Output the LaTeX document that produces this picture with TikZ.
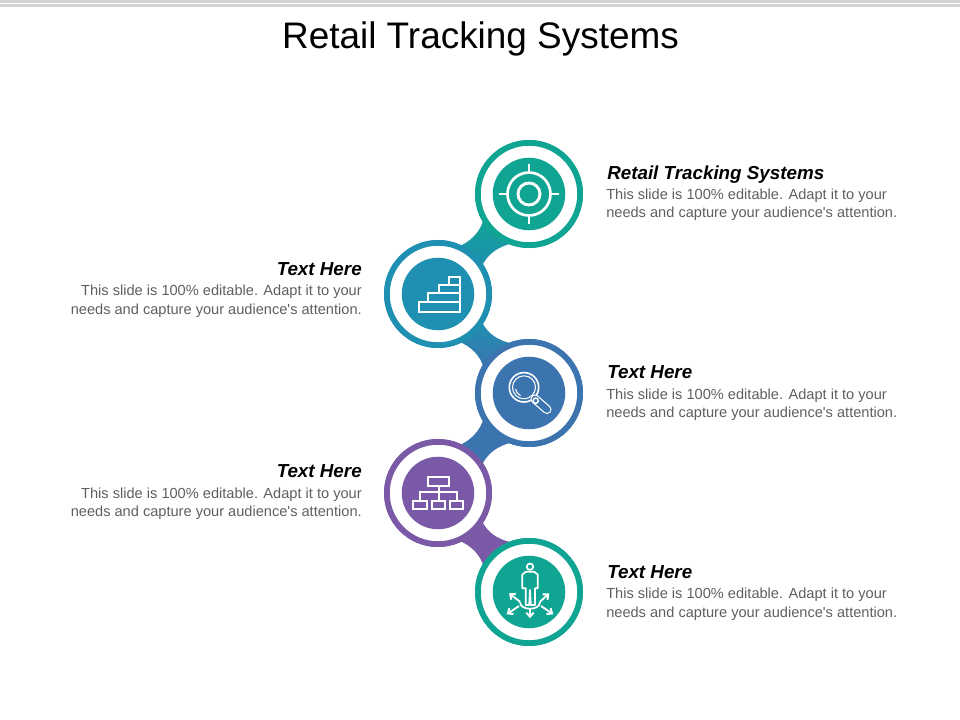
\documentclass[tikz,border=0pt]{standalone}
\usepackage{fontspec}
\usetikzlibrary{arrows.meta}
\setmainfont{Liberation Sans}
\definecolor{tealring}{HTML}{10A492}
\definecolor{bluering}{HTML}{1F8FB2}
\definecolor{steelring}{HTML}{3B74AE}
\definecolor{purplering}{HTML}{7A5AA6}
\definecolor{bodygrey}{HTML}{5F5F5F}
\tikzset{
  ringnode/.style={circle, draw=#1, fill=white, line width=4.3pt, outer sep=0pt, minimum size=76.7pt},
  disc/.style={circle, fill=#1, minimum size=54.4pt, inner sep=0pt},
  headtext/.style={font=\fontsize{14.1pt}{16pt}\selectfont\bfseries\itshape, text=black, inner sep=0pt},
  bodytext/.style={font=\fontsize{10.95pt}{13.9pt}\selectfont, text=bodygrey, inner sep=0pt},
  icon/.style={draw=white, line width=#1},
  icon/.default=1.5pt,
  barb/.style={-{Straight Barb[length=3.2pt, width=5.5pt]}},
}
\begin{document}
\begin{tikzpicture}[x=0.75pt, y=-0.75pt]
  \useasboundingbox (0,0) rectangle (960,720);
  % top rules
  \fill[black!17] (0,0) rectangle (960,3);
  \fill[black!17] (0,4) rectangle (960,7);
  \node[font=\fontsize{27.7pt}{30pt}\selectfont, inner sep=0pt] (title) at (480.5,39) {Retail Tracking Systems};
  % rings, placed first so that the links can use their anchors
  \path node[ringnode=tealring] (ringa) at (529,194) {};
  \path node[ringnode=bluering] (ringb) at (438,294) {};
  \path node[ringnode=steelring] (ringc) at (529,393) {};
  \path node[ringnode=purplering] (ringd) at (438,493) {};
  \path node[ringnode=tealring] (ringe) at (529,592) {};
  % links
  \shade[top color=tealring, bottom color=bluering] (ringa.208) .. controls +(-3,14) and +(12,-5) .. (ringb.67) -- (ringb.32) .. controls +(6,-12) and +(-18,4) .. (ringa.253) -- cycle;
  \shade[top color=bluering, bottom color=steelring] (ringb.328) .. controls +(6,12) and +(-18,-4) .. (ringc.107) -- (ringc.152) .. controls +(-3,-14) and +(12,5) .. (ringb.293) -- cycle;
  \fill[steelring] (ringc.208) .. controls +(-3,14) and +(12,-5) .. (ringd.67) -- (ringd.32) .. controls +(6,-12) and +(-18,4) .. (ringc.253) -- cycle;
  \fill[purplering] (ringd.328) .. controls +(6,12) and +(-18,-4) .. (ringe.107) -- (ringe.152) .. controls +(-3,-14) and +(12,5) .. (ringd.293) -- cycle;
  % redraw rings over the links
  \node[ringnode=tealring] at (ringa) {};
  \node[ringnode=bluering] at (ringb) {};
  \node[ringnode=steelring] at (ringc) {};
  \node[ringnode=purplering] at (ringd) {};
  \node[ringnode=tealring] at (ringe) {};
  \node[disc=tealring] (disca) at (ringa) {};
  \node[disc=bluering] (discb) at (ringb) {};
  \node[disc=steelring] (discc) at (ringc) {};
  \node[disc=purplering] (discd) at (ringd) {};
  \node[disc=tealring] (disce) at (ringe) {};
  % target icon
  \begin{scope}[shift={(529,194)}]
    \draw[icon=2pt] (0,0) circle (21.5);
    \draw[icon=2.2pt] (0,0) circle (11);
    \draw[icon=2.2pt] (0,-30) -- (0,-21.5);
    \draw[icon=2.2pt] (0,30) -- (0,21.5);
    \draw[icon=2.2pt] (-30,0) -- (-21.5,0);
    \draw[icon=2.2pt] (30,0) -- (21.5,0);
  \end{scope}
  % stairs icon
  \draw[icon] (418.5,302) rectangle (460,312);
  \draw[icon] (428,302) -- (428,293) -- (460,293) -- (460,302);
  \draw[icon] (438.5,293) -- (438.5,285) -- (460,285) -- (460,293);
  \draw[icon] (449,285) -- (449,277) -- (460,277) -- (460,285);
  % magnifier icon
  \draw[icon=1.2pt] (524,387.3) circle (14.7);
  \draw[icon=0.8pt] (524,387.3) circle (11.5);
  \draw[icon=0.8pt] (515.5,389) arc[start angle=170, end angle=115, radius=9];
  \draw[white, line width=6.8pt, line cap=round] (535,399) -- (547,409.5);
  \draw[steelring, line width=5pt, line cap=round] (535,399) -- (547,409.5);
  \draw[icon=1.1pt, fill=steelring] (535.7,400.7) circle (2.6);
  % org chart icon
  \draw[icon] (428.3,476.7) rectangle (449,485.7);
  \draw[icon] (438.5,485.7) -- (438.5,500.7);
  \draw[icon] (420,500.7) -- (420,492.3) -- (456.5,492.3) -- (456.5,500.7);
  \draw[icon] (413.3,500.7) rectangle (426.7,509);
  \draw[icon] (431.7,500.7) rectangle (445,509);
  \draw[icon] (450,500.7) rectangle (463.3,509);
  % person icon
  \draw[icon=1.3pt] (530,566.7) circle (3.2);
  \draw[icon=1.3pt, line join=round] (526,571.7) -- (534,571.7) -- (537.7,574.5) -- (537.7,588.3) -- (535,588.3) -- (535,605) -- (530.8,605) -- (530,590) -- (529.2,605) -- (525.7,605) -- (525.7,588.3) -- (522.3,588.3) -- (522.3,574.5) -- cycle;
  \draw[icon=1.3pt] (520,602) .. controls (520,611) and (540,611) .. (540,602);
  \draw[icon=1.4pt, barb] (520,601.7) -- (509,593.3);
  \draw[icon=1.4pt, barb] (540,601.7) -- (549.3,593.3);
  \draw[icon=1.4pt, barb] (519,606) -- (506.7,614.3);
  \draw[icon=1.4pt, barb] (541,606) -- (553.3,614.3);
  \draw[icon=1.4pt, barb] (530,609) -- (530,618.3);
  % texts
  \node[headtext, anchor=base west] (heada) at (607,179.5) {Retail Tracking Systems};
  \node[bodytext, anchor=base west] (bodya1) at (606,200) {This slide is 100\% editable. Adapt it to your};
  \node[bodytext, anchor=base west] (bodya2) at (606,218) {needs and capture your audience\textquotesingle{}s attention.};
  \node[headtext, anchor=base east] (headb) at (362,276) {Text Here};
  \node[bodytext, anchor=base east] (bodyb1) at (362,296) {This slide is 100\% editable. Adapt it to your};
  \node[bodytext, anchor=base east] (bodyb2) at (362,315) {needs and capture your audience\textquotesingle{}s attention.};
  \node[headtext, anchor=base west] (headc) at (607,378) {Text Here};
  \node[bodytext, anchor=base west] (bodyc1) at (606,399) {This slide is 100\% editable. Adapt it to your};
  \node[bodytext, anchor=base west] (bodyc2) at (606,417) {needs and capture your audience\textquotesingle{}s attention.};
  \node[headtext, anchor=base east] (headd) at (362,477) {Text Here};
  \node[bodytext, anchor=base east] (bodyd1) at (362,498) {This slide is 100\% editable. Adapt it to your};
  \node[bodytext, anchor=base east] (bodyd2) at (362,516) {needs and capture your audience\textquotesingle{}s attention.};
  \node[headtext, anchor=base west] (heade) at (607,578) {Text Here};
  \node[bodytext, anchor=base west] (bodye1) at (606,598.5) {This slide is 100\% editable. Adapt it to your};
  \node[bodytext, anchor=base west] (bodye2) at (606,617) {needs and capture your audience\textquotesingle{}s attention.};
\end{tikzpicture}
\end{document}
